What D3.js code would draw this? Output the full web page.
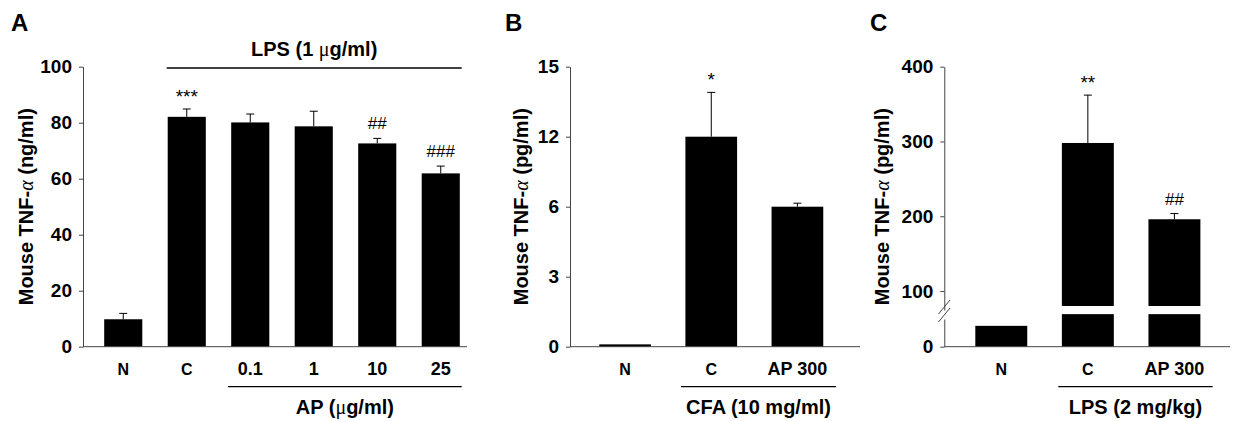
<!DOCTYPE html>
<html><head><meta charset="utf-8">
<script src="https://cdn.jsdelivr.net/npm/d3@7"></script>
<style>
html,body{margin:0;padding:0;background:#fff;}
svg{display:block;}
text{font-family:"Liberation Sans",Arial,sans-serif;fill:#000;}
</style></head>
<body>
<svg id="chart" width="1250" height="421"></svg>
<script>
// ---------- data ----------
const catsA = ["N", "C", "0.1", "1", "10", "25"];
const valsA = [9.8, 82.1, 80.1, 78.7, 72.6, 61.9];
const errA  = [2.1, 2.8, 3.0, 5.4, 1.8, 2.6];
const sigA  = ["", "***", "", "", "##", "###"];
const ticksA = [0, 20, 40, 60, 80, 100];

const catsB = ["N", "C", "AP 300"];
const valsB = [0.1, 12, 6];
const errB  = [0, 1.9, 0.3];
const sigB  = ["", "*", ""];
const ticksB = [0, 3, 6, 12, 15];

const catsC = ["N", "C", "AP 300"];
const valsC = [41, 298, 196];
const errC  = [0, 64, 7.6];
const sigC  = ["", "**", "##"];
const ticksC = [0, 100, 200, 300, 400];

// ---------- layout ----------
const svg = d3.select("#chart");
const Y0 = 346.7, YT = 66.7;
const axisColor = "#444";
const FONT = '"Liberation Sans", Arial, sans-serif';

function panel(opt) {
  const g = svg.append("g");
  const x = d3.scaleBand().domain(opt.cats).range(opt.xRange).paddingInner(0.4).paddingOuter(0.2);
  const y = opt.y;
  opt.cats.forEach((c, i) => {
    const v = opt.vals[i];
    const bx = x(c), bw = x.bandwidth();
    if (opt.brk && v > opt.brk[1]) {
      g.append("rect").attr("x", bx).attr("width", bw)
        .attr("y", y(opt.brk[0])).attr("height", y(0) - y(opt.brk[0])).attr("fill", "#000");
      g.append("rect").attr("x", bx).attr("width", bw)
        .attr("y", y(v)).attr("height", y(opt.brk[1]) - y(v)).attr("fill", "#000");
    } else {
      g.append("rect").attr("x", bx).attr("width", bw)
        .attr("y", y(v)).attr("height", y(0) - y(v)).attr("fill", "#000");
    }
    const cx = bx + bw / 2;
    const e = opt.errs[i];
    let top = y(v);
    if (e > 0) {
      top = y(v + e);
      g.append("line").attr("x1", cx).attr("x2", cx).attr("y1", y(v)).attr("y2", top)
        .attr("stroke", "#000").attr("stroke-width", 1);
      g.append("line").attr("x1", cx - 4).attr("x2", cx + 4).attr("y1", top).attr("y2", top)
        .attr("stroke", "#000").attr("stroke-width", 1);
    }
    const s = opt.sigs[i];
    if (s) {
      const isStar = s[0] === "*";
      g.append("text").attr("x", cx).attr("y", isStar ? top - 6 : top - 9)
        .attr("text-anchor", "middle").style("font-size", isStar ? "19px" : "17px")
        .style("font-weight", "normal").text(s);
    }
  });
  const ax = g.append("g").attr("transform", `translate(${opt.axisX},0)`)
    .call(d3.axisLeft(y).tickValues(opt.ticks).tickSize(4).tickSizeOuter(0).tickPadding(7)
      .tickFormat(d => String(d)));
  ax.select(".domain").attr("stroke", axisColor);
  ax.selectAll(".tick line").attr("stroke", axisColor);
  ax.selectAll(".tick text").style("font-family", FONT).style("font-size", "19px")
    .style("font-weight", "bold").attr("fill", "#000");
  g.append("line").attr("x1", opt.axisX).attr("x2", opt.xEnd).attr("y1", Y0).attr("y2", Y0)
    .attr("stroke", axisColor).attr("stroke-width", 1);
  opt.cats.forEach((c, i) => {
    g.append("text").attr("x", x(c) + x.bandwidth() / 2)
      .attr("y", 375).attr("text-anchor", "middle")
      .style("font-size", (c === "N" || c === "C") ? "16px" : "18px").style("font-weight", "bold").text(c);
  });
  const t = g.append("text").attr("transform", `translate(${opt.titleX},${(Y0 + YT) / 2}) rotate(-90)`)
    .attr("text-anchor", "middle").style("font-size", "20px").style("font-weight", "bold");
  t.append("tspan").text("Mouse TNF-");
  t.append("tspan").style("font-family", '"Liberation Serif", "Times New Roman", serif')
    .style("font-style", "italic").style("font-weight", "normal").text("α");
  t.append("tspan").text(" " + opt.unit);
  g.append("text").attr("x", opt.letterX).attr("y", 31).style("font-size", "24px")
    .style("font-weight", "bold").text(opt.letter);
  return { g, x, y };
}

function groupLabel(g, x1, x2, yLine, label, yText) {
  g.append("line").attr("x1", x1).attr("x2", x2).attr("y1", yLine).attr("y2", yLine)
    .attr("stroke", "#000").attr("stroke-width", 1.3);
  const t = g.append("text").attr("x", (x1 + x2) / 2).attr("y", yText).attr("text-anchor", "middle")
    .style("font-size", "20px").style("font-weight", "bold");
  label.forEach(p => {
    const s = t.append("tspan").text(p.t);
    if (p.mu) s.style("font-family", '"Liberation Serif", "Times New Roman", serif').style("font-weight", "normal");
  });
}

// Panel A
const yA = d3.scaleLinear().domain([0, 100]).range([Y0, YT]);
const pA = panel({ cats: catsA, vals: valsA, errs: errA, sigs: sigA, ticks: ticksA, y: yA,
  xRange: [91.5, 472.5], axisX: 83, xEnd: 467, titleX: 33, unit: "(ng/ml)", letter: "A", letterX: 11 });
groupLabel(pA.g, 166.7, 461.7, 68, [{ t: "LPS (1 " }, { t: "μ", mu: true }, { t: "g/ml)" }], 56);
groupLabel(pA.g, 228, 461.7, 386.7, [{ t: "AP (" }, { t: "μ", mu: true }, { t: "g/ml)" }], 414);

// Panel B (axis labels equally spaced as in the figure)
const yB = d3.scaleLinear().domain(ticksB)
  .range(ticksB.map((d, i) => Y0 - i * (Y0 - YT) / (ticksB.length - 1)));
const pB = panel({ cats: catsB, vals: valsB, errs: errB, sigs: sigB, ticks: ticksB, y: yB,
  xRange: [582, 840.5], axisX: 570, xEnd: 860, titleX: 528, unit: "(pg/ml)", letter: "B", letterX: 505 });
groupLabel(pB.g, 681, 836, 386.7, [{ t: "CFA (10 mg/ml)" }], 414);

// Panel C (broken axis)
const brkC = [64, 80];
const yC = d3.scaleLinear().domain([0, 80, 400]).range([Y0, 306, YT]);
const pC = panel({ cats: catsC, vals: valsC, errs: errC, sigs: sigC, ticks: ticksC, y: yC, brk: brkC,
  xRange: [958, 1217.7], axisX: 944.3, xEnd: 1230, titleX: 889, unit: "(pg/ml)", letter: "C", letterX: 870 });
pC.g.append("rect").attr("x", 941).attr("y", yC(75) + 2).attr("width", 6).attr("height", 9).attr("fill", "#fff");
[0, 8].forEach(o => {
  pC.g.append("line").attr("x1", 938.5).attr("x2", 950).attr("y1", 314 + o).attr("y2", 300 + o)
    .attr("stroke", axisColor).attr("stroke-width", 1);
});
groupLabel(pC.g, 1058.3, 1212.7, 386.7, [{ t: "LPS (2 mg/kg)" }], 414);
</script>
</body></html>
